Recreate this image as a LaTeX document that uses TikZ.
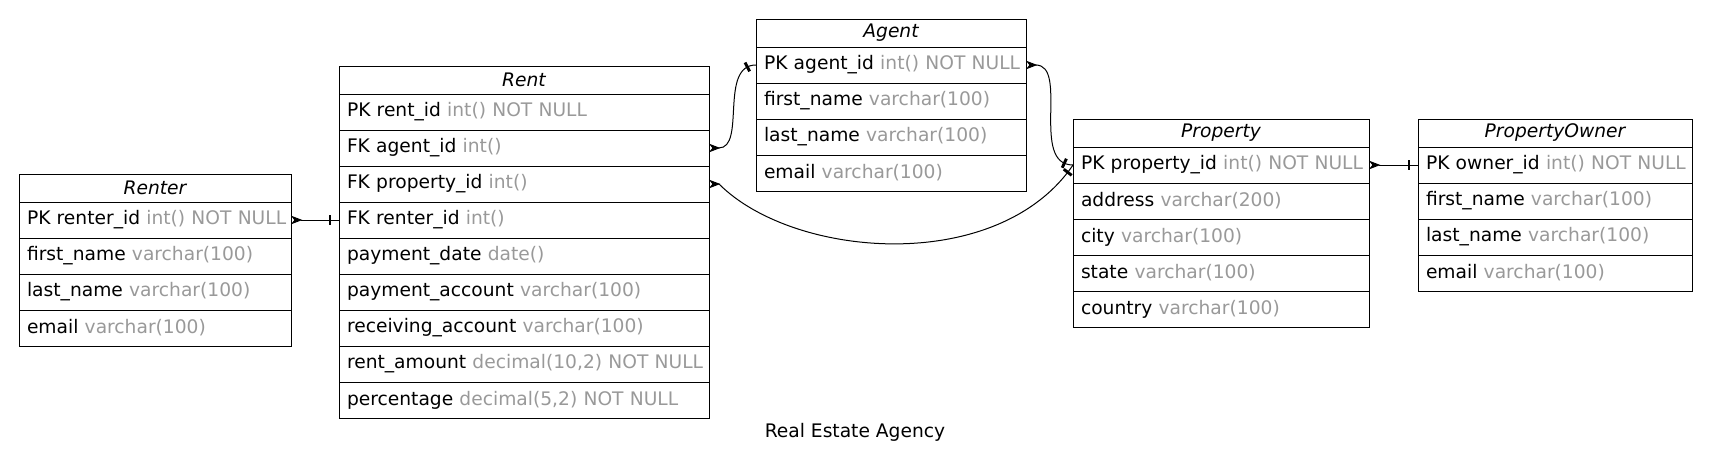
\documentclass[tikz,border=0pt]{standalone}
\usepackage{fontspec}
\setmainfont{DejaVu Sans}
\usetikzlibrary{positioning,arrows.meta,decorations.markings}
\definecolor{typegray}{HTML}{999999}
\newcommand{\field}[2]{\mbox{#1 \textcolor{typegray}{#2}}}

\begin{document}
\begin{tikzpicture}[x=0.75pt, y=-0.75pt, line width=0.75pt, node distance=0pt,
  every node/.style={font=\fontsize{14}{17}\selectfont},
  tblhead/.style={draw, outer sep=0pt, inner sep=0pt, minimum height=21pt,
    font=\fontsize{14}{17}\selectfont\itshape},
  tblrow/.style={draw, outer sep=0pt, inner xsep=6pt, inner ysep=0pt,
    minimum height=27pt, align=left, text width=#1},
  crow start/.style={arrows={Stealth[reversed,length=8.5pt,width=6.5pt,inset=2.5pt]-}},
  tee end/.style={postaction={decorate, decoration={markings,
    mark=at position -6.75pt with {\fill (-1.1pt,-3.75pt) rectangle (1.1pt,3.75pt);}}}}]
  \useasboundingbox (0,0) rectangle (1710,468);
  % Renter
  \node[tblhead, minimum width=204pt, anchor=north west] (renter) at (19,174) {Renter};
  \node[tblrow=192pt, below=of renter] (renter-pk) {\field{PK renter\_id}{int() NOT NULL}};
  \node[tblrow=192pt, below=of renter-pk] (renter-first) {\field{first\_name}{varchar(100)}};
  \node[tblrow=192pt, below=of renter-first] (renter-last) {\field{last\_name}{varchar(100)}};
  \node[tblrow=192pt, below=of renter-last] (renter-email) {\field{email}{varchar(100)}};
  % Rent
  \node[tblhead, minimum width=277.5pt, anchor=north west] (rent) at (339,66) {Rent};
  \node[tblrow=265.5pt, below=of rent] (rent-pk) {\field{PK rent\_id}{int() NOT NULL}};
  \node[tblrow=265.5pt, below=of rent-pk] (rent-agent) {\field{FK agent\_id}{int()}};
  \node[tblrow=265.5pt, below=of rent-agent] (rent-prop) {\field{FK property\_id}{int()}};
  \node[tblrow=265.5pt, below=of rent-prop] (rent-renter) {\field{FK renter\_id}{int()}};
  \node[tblrow=265.5pt, below=of rent-renter] (rent-date) {\field{payment\_date}{date()}};
  \node[tblrow=265.5pt, below=of rent-date] (rent-pay) {\field{payment\_account}{varchar(100)}};
  \node[tblrow=265.5pt, below=of rent-pay] (rent-recv) {\field{receiving\_account}{varchar(100)}};
  \node[tblrow=265.5pt, below=of rent-recv] (rent-amount) {\field{rent\_amount}{decimal(10,2) NOT NULL}};
  \node[tblrow=265.5pt, below=of rent-amount] (rent-perc) {\field{percentage}{decimal(5,2) NOT NULL}};
  % Agent
  \node[tblhead, minimum width=202.5pt, anchor=north west] (agent) at (756,19) {Agent};
  \node[tblrow=190.5pt, below=of agent] (agent-pk) {\field{PK agent\_id}{int() NOT NULL}};
  \node[tblrow=190.5pt, below=of agent-pk] (agent-first) {\field{first\_name}{varchar(100)}};
  \node[tblrow=190.5pt, below=of agent-first] (agent-last) {\field{last\_name}{varchar(100)}};
  \node[tblrow=190.5pt, below=of agent-last] (agent-email) {\field{email}{varchar(100)}};
  % Property
  \node[tblhead, minimum width=222pt, anchor=north west] (prop) at (1073,119) {Property};
  \node[tblrow=210pt, below=of prop] (prop-pk) {\field{PK property\_id}{int() NOT NULL}};
  \node[tblrow=210pt, below=of prop-pk] (prop-addr) {\field{address}{varchar(200)}};
  \node[tblrow=210pt, below=of prop-addr] (prop-city) {\field{city}{varchar(100)}};
  \node[tblrow=210pt, below=of prop-city] (prop-state) {\field{state}{varchar(100)}};
  \node[tblrow=210pt, below=of prop-state] (prop-country) {\field{country}{varchar(100)}};
  % PropertyOwner
  \node[tblhead, minimum width=205.5pt, anchor=north west] (owner) at (1418,119) {PropertyOwner};
  \node[tblrow=193.5pt, below=of owner] (owner-pk) {\field{PK owner\_id}{int() NOT NULL}};
  \node[tblrow=193.5pt, below=of owner-pk] (owner-first) {\field{first\_name}{varchar(100)}};
  \node[tblrow=193.5pt, below=of owner-first] (owner-last) {\field{last\_name}{varchar(100)}};
  \node[tblrow=193.5pt, below=of owner-last] (owner-email) {\field{email}{varchar(100)}};
  % relations
  \draw[crow start, tee end] (renter-pk.east) -- (rent-renter.west);
  \draw[crow start, tee end] (rent-agent.east) to[out=0, in=180] (agent-pk.west);
  \draw[crow start, tee end] (rent-prop.east) -- ++(10,0)
    .. controls +(75,75) and +(-75,110) .. (prop-pk.west);
  \draw[crow start, tee end] (agent-pk.east) to[out=0, in=180] (prop-pk.west);
  \draw[crow start, tee end] (prop-pk.east) -- (owner-pk.west);
  \node (title) at (855,432) {Real Estate Agency};
\end{tikzpicture}
\end{document}
